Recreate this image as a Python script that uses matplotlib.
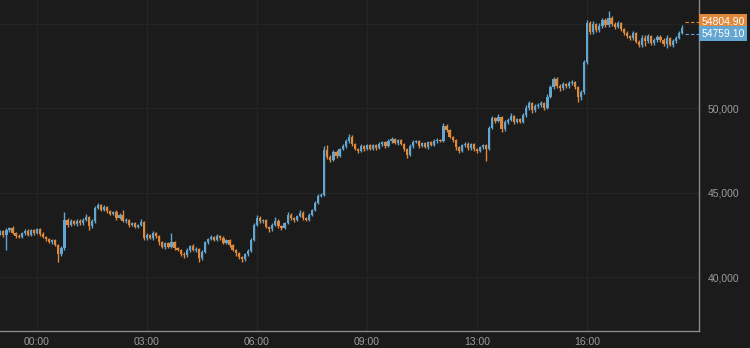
import matplotlib
matplotlib.use('Agg')
import matplotlib.pyplot as plt
import matplotlib.transforms as mtransforms
import numpy as np

# 5-minute closes
closes = [
    42700, 42480, 42760, 42900, 42620, 42450, 42380, 42600, 42750, 42520, 42780, 42600, 42820, 42560, 42380, 42250,
    42080, 42180, 41900, 41350, 41700, 43380, 43100, 43300, 43150, 43350, 43180, 43380, 43560, 43000, 43300, 44120,
    44260, 43980, 44180, 43900, 43760, 43850, 43520, 43700, 43300, 43380, 43100, 43200, 42980, 43080, 43250, 42300,
    42480, 42300, 42600, 42420, 42050, 41800, 42000, 41780, 42080, 41720, 41620, 41380, 41280, 41600, 41820, 41600,
    41680, 41100, 41500, 42050, 42250, 42380, 42220, 42460, 42300, 42020, 42180, 41900, 41620, 41400, 41200, 41050,
    41350, 41520, 42200, 43100, 43520, 43300, 43380, 42980, 42820, 43100, 43350, 43020, 42900, 43200, 43700, 43480,
    43380, 43600, 43820, 43500, 43400, 43680, 43950, 44400, 44820, 44880, 47550, 47120, 46950, 47400, 47200, 47580,
    47750, 48050, 48320, 47900, 47600, 47480, 47760, 47600, 47820, 47600, 47800, 47650, 47880, 48000, 47780, 48050,
    48180, 47950, 48100, 47880, 47620, 47250, 47750, 48000, 48060, 47780, 47920, 47720, 47980, 47850, 48050, 48120,
    48080, 48980, 48700, 48320, 48100, 47720, 47480, 47800, 47900, 47650, 47860, 47600, 47480, 47700, 47800, 47600,
    48850, 49400, 49250, 49480, 48750, 49180, 49320, 49520, 49200, 49350, 49220, 49580, 50050, 50300, 49880, 50120,
    50180, 50320, 50050, 50700, 51250, 51720, 51350, 51180, 51420, 51300, 51480, 51550, 51280, 50650, 51000, 52750,
    55050, 54550, 54980, 54650, 54880, 55220, 54950, 55350, 55000, 54850, 55050, 54700, 54480, 54300, 54180, 54450,
    53950, 53780, 54200, 54000, 54280, 53900, 54050, 54220, 54080, 53820, 54150, 53780, 53980, 54200, 54480, 54780,
]
first_open = 42600

# wick lengths above / below the body
upper_wick = [
    90, 70, 120, 60, 130, 50, 90, 80, 70, 110, 60, 90, 80, 60, 80, 60,
    70, 90, 50, 80, 120, 475, 90, 130, 70, 110, 60, 90, 160, 80, 120, 90,
    130, 70, 90, 60, 80, 50, 110, 70, 300, 90, 60, 80, 80, 70, 180, 90,
    120, 60, 110, 80, 70, 90, 60, 80, 535, 60, 80, 70, 90, 110, 60, 120,
    80, 60, 130, 90, 70, 120, 80, 90, 60, 130, 70, 60, 80, 60, 70, 50,
    90, 120, 110, 130, 160, 90, 70, 80, 60, 120, 180, 70, 90, 80, 160, 110,
    80, 90, 130, 70, 60, 110, 90, 120, 80, 130, 200, 300, 90, 120, 110, 90,
    130, 120, 150, 90, 70, 60, 120, 80, 90, 60, 110, 70, 120, 90, 80, 130,
    110, 80, 90, 70, 60, 50, 120, 130, 90, 70, 110, 60, 90, 80, 120, 140,
    90, 175, 120, 80, 60, 70, 50, 90, 80, 110, 70, 60, 60, 90, 80, 60,
    130, 140, 90, 160, 80, 120, 90, 190, 70, 90, 80, 130, 160, 130, 90, 120,
    110, 140, 80, 130, 150, 160, 120, 90, 130, 80, 140, 120, 90, 60, 110, 130,
    190, 130, 220, 90, 160, 130, 110, 415, 120, 130, 150, 90, 80, 110, 60, 130,
    90, 120, 160, 130, 110, 90, 140, 120, 130, 90, 190, 110, 130, 90, 120, 140,
]
lower_wick = [
    80, 90, 890, 70, 90, 120, 80, 60, 110, 70, 90, 80, 60, 120, 90, 110,
    90, 120, 80, 475, 130, 90, 120, 70, 90, 110, 80, 90, 70, 240, 90, 80,
    70, 90, 80, 110, 90, 70, 120, 80, 60, 90, 110, 80, 70, 90, 60, 120,
    90, 70, 110, 80, 130, 90, 120, 70, 80, 110, 90, 120, 130, 80, 90, 70,
    110, 235, 90, 60, 80, 70, 90, 80, 110, 70, 90, 120, 90, 130, 110, 175,
    120, 90, 60, 80, 70, 90, 110, 80, 130, 90, 70, 120, 90, 80, 60, 110,
    90, 80, 70, 120, 90, 80, 70, 60, 90, 80, 70, 130, 160, 90, 120, 80,
    70, 90, 80, 130, 90, 120, 80, 110, 70, 90, 80, 120, 70, 90, 110, 80,
    90, 70, 110, 80, 130, 180, 90, 80, 70, 110, 90, 80, 120, 70, 90, 80,
    70, 90, 110, 80, 120, 160, 130, 90, 80, 110, 90, 120, 130, 90, 80, 710,
    90, 80, 110, 70, 160, 90, 120, 80, 110, 90, 80, 70, 90, 120, 130, 90,
    110, 80, 120, 90, 70, 80, 120, 130, 90, 110, 80, 90, 120, 295, 130, 120,
    90, 160, 120, 130, 110, 90, 120, 110, 90, 130, 80, 140, 120, 110, 150, 130,
    100, 155, 130, 275, 110, 160, 130, 90, 120, 110, 235, 90, 130, 110, 90, 80,
]

tick_pos = [12, 48, 84, 120, 156, 192]
tick_labels = ['00:00', '03:00', '06:00', '09:00', '13:00', '16:00']
price_ticks = [40000, 45000, 50000, 55000]
ask_price = 54804.90
bid_price = 54759.10

BG = '#1b1b1b'
UP = '#62a6d1'
DOWN = '#e1893b'

closes = np.array(closes, dtype=float)
opens = np.concatenate([[first_open], closes[:-1]])
x = np.arange(len(closes))
highs = np.maximum(opens, closes) + np.array(upper_wick)
lows = np.minimum(opens, closes) - np.array(lower_wick)
colors = [UP if c >= o else DOWN for o, c in zip(opens, closes)]

fig = plt.figure(figsize=(7.5, 3.48), dpi=100, facecolor=BG)
ax = fig.add_axes([0, 17 / 348, 699 / 750, 331 / 348])
ax.set_facecolor(BG)

ax.vlines(x, lows, highs, colors=colors, linewidth=1.0, zorder=3)
ax.bar(x, closes - opens, bottom=opens, width=0.72, color=colors,
       linewidth=0, zorder=4)

ax.set_xlim(-0.1, 228.6)
ax.set_ylim(36798, 56426)

ax.set_xticks(tick_pos)
ax.set_xticklabels(tick_labels)
ax.set_yticks(price_ticks)
# the 55,000 label sits under the last-price boxes, so it is left blank
ax.set_yticklabels(['{:,}'.format(p) if p < 55000 else '' for p in price_ticks])
ax.yaxis.tick_right()
ax.tick_params(axis='both', length=0, colors='#9b9b9b', labelsize=7.5)
ax.tick_params(axis='x', pad=4)
ax.tick_params(axis='y', pad=6)
for lab in ax.get_xticklabels() + ax.get_yticklabels():
    lab.set_fontfamily('Liberation Sans')

ax.grid(True, color='#242424', linewidth=1)
ax.set_axisbelow(True)
for side in ['top', 'left']:
    ax.spines[side].set_visible(False)
for side in ['bottom', 'right']:
    ax.spines[side].set_color('#8a8a8a')
    ax.spines[side].set_linewidth(1)

# last price markers: dashed bracket and boxed labels off the right edge
trans = ax.get_yaxis_transform()
ask_t = mtransforms.offset_copy(trans, fig=fig, x=0, y=4.2, units='points')
bid_t = mtransforms.offset_copy(trans, fig=fig, x=0, y=-4.0, units='points')
ax.plot([0.98, 1.0], [ask_price, ask_price], transform=ask_t, color=DOWN,
        linestyle=(0, (3, 2)), linewidth=0.8, clip_on=False, zorder=5)
ax.plot([0.98, 1.0], [bid_price, bid_price], transform=bid_t, color=UP,
        linestyle=(0, (3, 2)), linewidth=0.8, clip_on=False, zorder=5)
ax.text(1.003, ask_price, '{:.2f}'.format(ask_price), transform=ask_t,
        va='center', ha='left', fontsize=7.5, color='white', family='Liberation Sans',
        bbox=dict(boxstyle='square,pad=0.22', fc=DOWN, ec='none'), zorder=6, clip_on=False)
ax.text(1.003, bid_price, '{:.2f}'.format(bid_price), transform=bid_t,
        va='center', ha='left', fontsize=7.5, color='white', family='Liberation Sans',
        bbox=dict(boxstyle='square,pad=0.22', fc=UP, ec='none'), zorder=6, clip_on=False)

fig.savefig('out.png', dpi=100, facecolor=BG)
